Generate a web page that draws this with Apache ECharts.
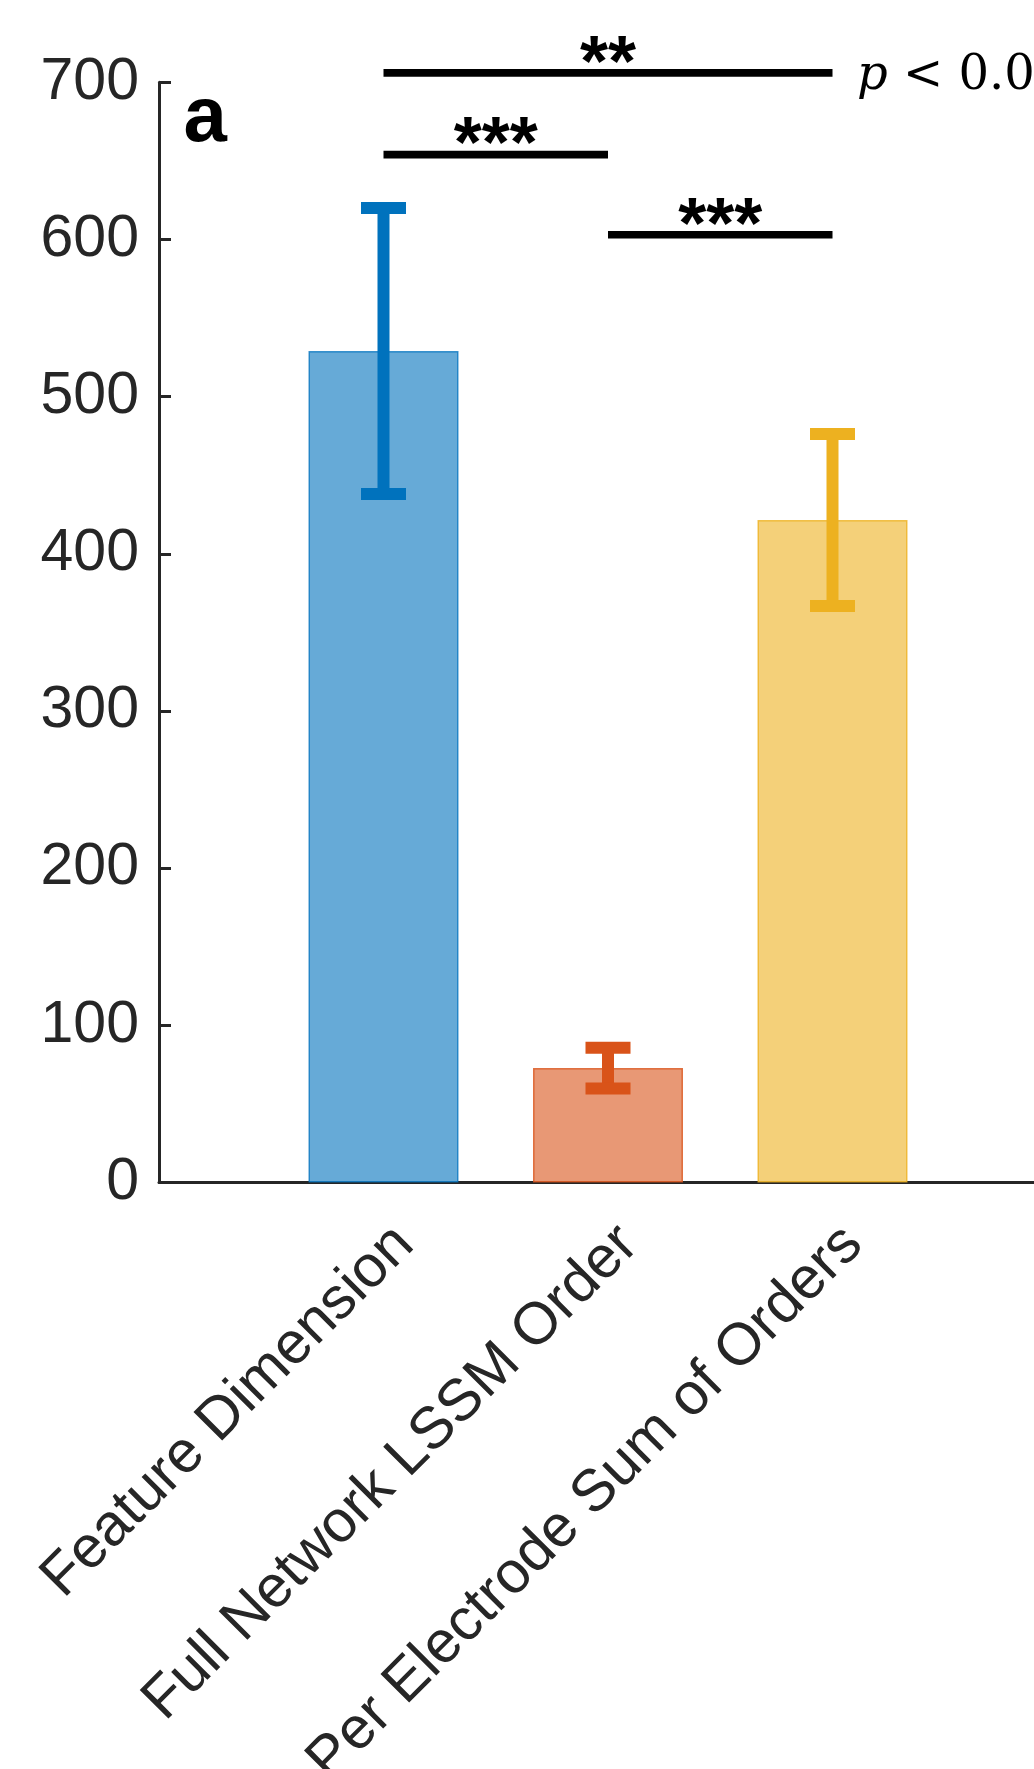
<!DOCTYPE html>
<html>
<head>
<meta charset="utf-8">
<script src="https://cdn.jsdelivr.net/npm/echarts@6/dist/echarts.min.js"></script>
<style>
html,body{margin:0;padding:0;background:#fff;}
#chart{width:1034px;height:1769px;}
</style>
</head>
<body>
<div id="chart"></div>
<script>
// ---- data ----
const categories = ['Feature Dimension', 'Full Network LSSM Order', 'Per Electrode Sum of Orders'];
const means = [529, 72.8, 421.5];
const errs = [91, 13, 54.7];
// significance brackets (indices into categories)
const sigFrom = [0, 0, 1];
const sigTo = [2, 1, 2];
const sigY = [706, 654, 603];
const sigLabels = ['**', '***', '***'];
const yMin = 0, yMax = 700, yStep = 100;
const panelLabel = 'a';

// ---- styles ----
const mainColors = ['#0072BD', '#D95319', '#EDB120'];
const fillColors = ['#66AAD7', '#E89875', '#F4D079'];
const edgeColors = ['rgba(0,114,189,0.75)', 'rgba(217,83,25,0.8)', 'rgba(237,177,32,0.8)'];
const axisColor = '#262626';
const FONT = "'Liberation Sans', Arial, Helvetica, sans-serif";

// padded category axis: one empty slot on each side
const axisCats = [''].concat(categories, ['']);
const barData = ['-'].concat(means.map((m, i) => ({
  value: m,
  itemStyle: { color: fillColors[i], borderColor: edgeColors[i], borderWidth: 1.5 }
})), ['-']);
const errData = means.map((m, i) => [i + 1, m - errs[i], m + errs[i]]);
const sigData = sigFrom.map((f, i) => [f + 1, sigTo[i] + 1, sigY[i]]);

const chart = echarts.init(document.getElementById('chart'), null, { renderer: 'canvas' });
chart.setOption({
  animation: false,
  backgroundColor: '#ffffff',
  grid: { left: 159, top: 82.3, width: 898, height: 1100.2, containLabel: false, outerBoundsMode: 'none' },
  xAxis: {
    type: 'category',
    data: axisCats,
    boundaryGap: false,
    axisLine: { show: true, lineStyle: { color: axisColor, width: 3 } },
    axisTick: {
      show: true, inside: true, length: 12,
      interval: (idx) => idx >= 1 && idx <= categories.length,
      lineStyle: { color: axisColor, width: 3 }
    },
    axisLabel: {
      interval: 0, rotate: 45, margin: 32,
      align: 'right', verticalAlign: 'top', hideOverlap: false,
      color: axisColor, fontSize: 59, fontFamily: FONT
    },
    splitLine: { show: false }
  },
  yAxis: {
    type: 'value', min: yMin, max: yMax, interval: yStep,
    axisLine: { show: true, lineStyle: { color: axisColor, width: 3 } },
    axisTick: { show: true, inside: true, length: 12, lineStyle: { color: axisColor, width: 3 } },
    axisLabel: { margin: 20, color: axisColor, fontSize: 59, fontFamily: FONT },
    splitLine: { show: false }
  },
  series: [
    {
      type: 'bar', data: barData, barWidth: 150, z: 2
    },
    {
      type: 'custom', data: errData, z: 5, clip: false,
      renderItem: function (params, api) {
        const x = api.value(0);
        const lo = api.coord([x, api.value(1)]);
        const hi = api.coord([x, api.value(2)]);
        const c = mainColors[params.dataIndex];
        const hw = 22.5, lw = 12;
        return {
          type: 'group',
          children: [
            { type: 'line', shape: { x1: lo[0], y1: lo[1], x2: hi[0], y2: hi[1] }, style: { stroke: c, lineWidth: lw } },
            { type: 'line', shape: { x1: lo[0] - hw, y1: lo[1], x2: lo[0] + hw, y2: lo[1] }, style: { stroke: c, lineWidth: lw } },
            { type: 'line', shape: { x1: hi[0] - hw, y1: hi[1], x2: hi[0] + hw, y2: hi[1] }, style: { stroke: c, lineWidth: lw } }
          ]
        };
      }
    },
    {
      type: 'custom', data: sigData, z: 6, clip: false,
      renderItem: function (params, api) {
        const p1 = api.coord([api.value(0), api.value(2)]);
        const p2 = api.coord([api.value(1), api.value(2)]);
        return {
          type: 'group',
          children: [
            { type: 'line', shape: { x1: p1[0], y1: p1[1], x2: p2[0], y2: p2[1] }, style: { stroke: '#000', lineWidth: 7.7 } },
            { type: 'text', x: (p1[0] + p2[0]) / 2, y: p1[1] - 7,
              style: { text: sigLabels[params.dataIndex], fill: '#000', align: 'center', verticalAlign: 'middle',
                       font: 'bold 72px ' + FONT } }
          ]
        };
      }
    }
  ],
  graphic: [
    { type: 'text', x: 183.5, y: 119.5,
      style: { text: panelLabel, fill: '#000', font: 'bold 78px ' + FONT, align: 'left', verticalAlign: 'middle' } },
    { type: 'text', x: 857, y: 77,
      style: { text: '{i|p} < 0.0', fill: '#000', font: "48px 'DejaVu Serif', serif", align: 'left', verticalAlign: 'middle',
               rich: { i: { fontStyle: 'italic', fontFamily: "'DejaVu Serif', serif", fontSize: 48, fill: '#000' } } } }
  ]
});
</script>
</body>
</html>
